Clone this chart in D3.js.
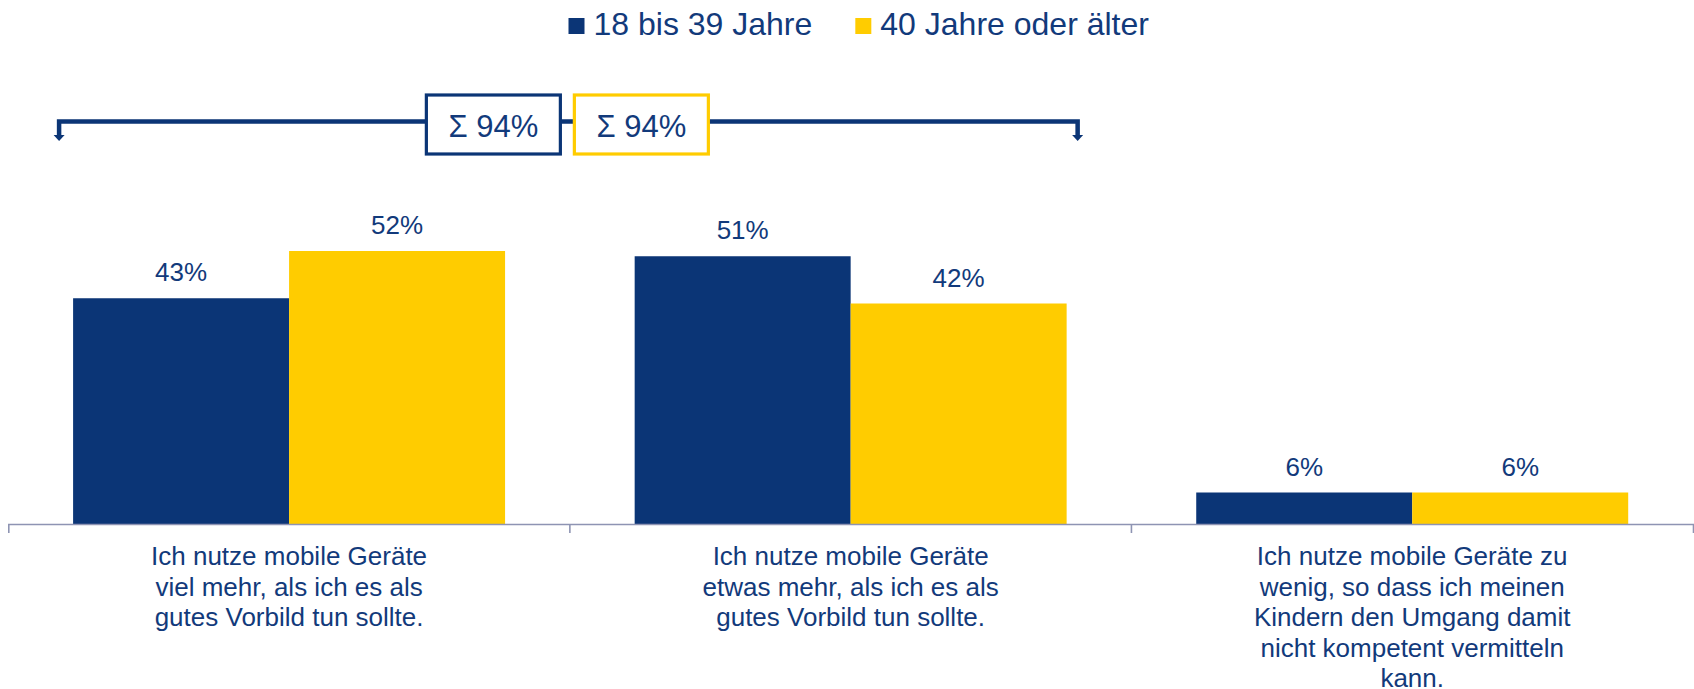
<!DOCTYPE html>
<html>
<head>
<meta charset="utf-8">
<script src="https://cdn.jsdelivr.net/npm/d3@7"></script>
<style>
  body { margin: 0; background: #fff; }
  svg { display: block; font-family: "Liberation Sans", Arial, sans-serif; }
</style>
</head>
<body>
<div id="chart"></div>
<script>
// ===================== data =====================
const categories = ["viel mehr", "etwas mehr", "zu wenig"];
const categoryLines = [
  ["Ich nutze mobile Geräte", "viel mehr, als ich es als", "gutes Vorbild tun sollte."],
  ["Ich nutze mobile Geräte", "etwas mehr, als ich es als", "gutes Vorbild tun sollte."],
  ["Ich nutze mobile Geräte zu", "wenig, so dass ich meinen", "Kindern den Umgang damit", "nicht kompetent vermitteln", "kann."]
];
const seriesNames = ["18 bis 39 Jahre", "40 Jahre oder älter"];
const young = [43, 51, 6];
const older = [52, 42, 6];
const sums = [94, 94];

// ===================== chart =====================
const w = 1694;
const h = 689;
const navy = "#0b3576";
const yellow = "#ffcc00";
const textCol = "#123a7b";
const colors = [navy, yellow];

const table = categories.map((c, i) => ({ cat: c, values: [young[i], older[i]] }));

const svg = d3.select("#chart").append("svg")
  .attr("width", w)
  .attr("height", h);

const x = d3.scaleBand()
  .domain(categories)
  .range([8.3, 1693])
  .paddingInner(0)
  .paddingOuter(0);

const x1 = d3.scaleBand()
  .domain(d3.range(seriesNames.length))
  .range([0, x.bandwidth()])
  .paddingInner(0)
  .paddingOuter(0.3);

const y = d3.scaleLinear()
  .domain([0, 60])
  .range([524, 209]);

// bars

const groups = svg.append("g").selectAll("g")
  .data(table)
  .join("g")
  .attr("transform", d => "translate(" + x(d.cat) + ",0)");

groups.selectAll("rect")
  .data(d => d.values.map((v, i) => ({ v, i })))
  .join("rect")
  .attr("x", d => x1(d.i))
  .attr("y", d => y(d.v))
  .attr("width", x1.bandwidth())
  .attr("height", d => y(0) - y(d.v))
  .attr("fill", d => colors[d.i]);

// value labels

groups.selectAll("text.val")
  .data(d => d.values.map((v, i) => ({ v, i })))
  .join("text")
  .attr("class", "val")
  .attr("x", d => x1(d.i) + x1.bandwidth() / 2)
  .attr("y", d => y(d.v) - 17)
  .attr("text-anchor", "middle")
  .attr("font-size", 26)
  .attr("fill", textCol)
  .text(d => d.v + "%");

// axis

const xAxis = svg.append("g")
  .attr("transform", "translate(0," + y(0) + ")")
  .call(d3.axisBottom(x).tickSize(0).tickSizeOuter(9).tickFormat(""));

xAxis.select(".domain")
  .attr("stroke", "#8e94b3")
  .attr("stroke-width", 1.6);

xAxis.selectAll(".bound")
  .data(categories.slice(1))
  .join("line")
  .attr("class", "bound")
  .attr("x1", d => x(d))
  .attr("x2", d => x(d))
  .attr("y1", 0)
  .attr("y2", 9)
  .attr("stroke", "#8e94b3")
  .attr("stroke-width", 1.6);

// category labels

const catLabels = svg.append("g").selectAll("text")
  .data(categories)
  .join("text")
  .attr("x", d => x(d) + x.bandwidth() / 2)
  .attr("y", y(0) + 41)
  .attr("text-anchor", "middle")
  .attr("font-size", 26)
  .attr("fill", textCol);

catLabels.selectAll("tspan")
  .data((d, i) => categoryLines[i])
  .join("tspan")
  .attr("x", function () { return d3.select(this.parentNode).attr("x"); })
  .attr("dy", (d, i) => i === 0 ? 0 : 30.5)
  .text(d => d);

// legend

const legend = svg.append("g");
let lx = 568.5;
seriesNames.forEach((name, i) => {
  legend.append("rect")
    .attr("x", lx)
    .attr("y", 18)
    .attr("width", 16)
    .attr("height", 16)
    .attr("fill", colors[i]);
  let t = legend.append("text")
    .attr("x", lx + 25)
    .attr("y", 35)
    .attr("font-size", 32)
    .attr("fill", textCol)
    .text(name);
  lx = lx + 25 + t.node().getComputedTextLength() + 43;
});

// bracket with sum boxes (first two categories)

const bx0 = x(categories[0]) + x1(0) - 14;
const bx1 = x(categories[1]) + x1(1) + x1.bandwidth() + 11;
const by = 121.5;

const bracket = svg.append("g");

bracket.append("path")
  .attr("d", "M" + bx0 + "," + 136 + "V" + by + "H" + bx1 + "V" + 136)
  .attr("fill", "none")
  .attr("stroke", navy)
  .attr("stroke-width", 4.5);

[bx0, bx1].forEach(px => {
  bracket.append("path")
    .attr("d", "M" + (px - 5.5) + ",135L" + px + ",141L" + (px + 5.5) + ",135Z")
    .attr("fill", navy);
});

const mid = (bx0 + bx1) / 2;
const boxW = 134;
const boxH = 59;
const gap = 14;

sums.forEach((s, i) => {
  let left = i === 0 ? mid - gap / 2 - boxW - 1 : mid + gap / 2 - 1;
  bracket.append("rect")
    .attr("x", left)
    .attr("y", 95)
    .attr("width", boxW)
    .attr("height", boxH)
    .attr("fill", "#fff")
    .attr("stroke", colors[i])
    .attr("stroke-width", 3.2);
  bracket.append("text")
    .attr("x", left + boxW / 2)
    .attr("y", 136.5)
    .attr("text-anchor", "middle")
    .attr("font-size", 31)
    .attr("fill", textCol)
    .text("Σ " + s + "%");
});
</script>
</body>
</html>
